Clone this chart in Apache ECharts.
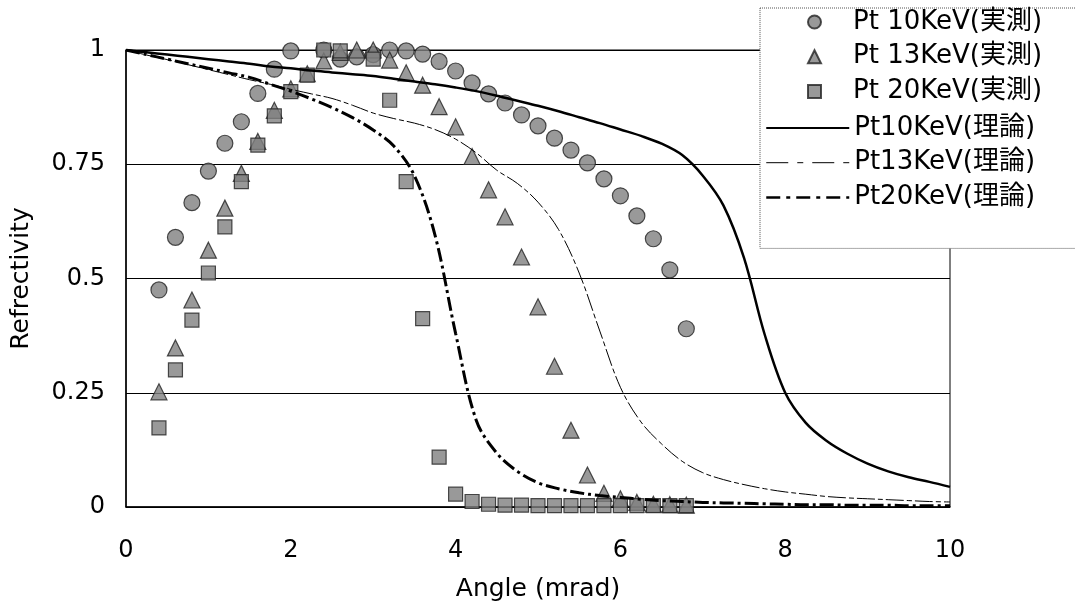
<!DOCTYPE html>
<html>
<head>
<meta charset="utf-8">
<script src="https://cdn.jsdelivr.net/npm/echarts@6/dist/echarts.min.js"></script>
<style>
html,body{margin:0;padding:0;background:#fff;}
#chart{width:1075px;height:608px;}
</style>
</head>
<body>
<div id="chart"></div>
<script>
const FONT = "'DejaVu Sans','Noto Sans CJK JP',sans-serif";

const seriesNames = ['Pt 10KeV(実測)','Pt 13KeV(実測)','Pt 20KeV(実測)','Pt10KeV(理論)','Pt13KeV(理論)','Pt20KeV(理論)'];
const xTickLabels = ['0','2','4','6','8','10'];
const yTickLabels = ['0','0.25','0.5','0.75','1'];

const angleMeas = [0.4,0.6,0.8,1.0,1.2,1.4,1.6,1.8,2.0,2.2,2.4,2.6,2.8,3.0,3.2,3.4,3.6,3.8,4.0,4.2,4.4,4.6,4.8,5.0,5.2,5.4,5.6,5.8,6.0,6.2,6.4,6.6,6.8];
const pt10Meas = [0.475,0.59,0.666,0.735,0.796,0.843,0.905,0.958,0.998,null,1.0,0.98,0.985,0.99,1.0,0.998,0.991,0.975,0.954,0.928,0.904,0.884,0.858,0.834,0.807,0.781,0.753,0.718,0.681,0.637,0.587,0.519,0.39];
const pt13Meas = [0.252,0.348,0.453,0.562,0.654,0.73,0.80,0.868,0.915,0.948,0.976,0.995,1.0,1.0,0.978,0.95,0.923,0.876,0.832,0.767,0.694,0.635,0.547,0.438,0.308,0.168,0.07,0.03,0.018,0.01,0.006,0.005,0.004];
const pt20Meas = [0.173,0.30,0.409,0.512,0.613,0.712,0.792,0.856,0.909,0.945,1.0,0.998,null,0.98,0.89,0.712,0.412,0.109,0.028,0.012,0.006,0.004,0.004,0.003,0.003,0.003,0.003,0.003,0.003,0.003,0.003,0.003,0.003];

const angleTheory = [0,0.25,0.5,0.75,1.0,1.25,1.5,1.75,2.0,2.25,2.5,2.75,3.0,3.25,3.5,3.75,4.0,4.25,4.5,4.75,5.0,5.25,5.5,5.75,6.0,6.25,6.5,6.75,7.0,7.25,7.5,7.75,8.0,8.25,8.5,8.75,9.0,9.25,9.5,9.75,10.0];
const pt10Theory = [1.0,0.995,0.99,0.985,0.98,0.975,0.97,0.964,0.96,0.955,0.951,0.947,0.943,0.937,0.931,0.925,0.918,0.91,0.90,0.889,0.878,0.866,0.853,0.84,0.826,0.812,0.795,0.77,0.725,0.66,0.545,0.378,0.25,0.184,0.145,0.117,0.095,0.078,0.065,0.055,0.044];
const pt13Theory = [1.0,0.989,0.979,0.968,0.957,0.946,0.935,0.925,0.914,0.904,0.894,0.879,0.862,0.85,0.84,0.826,0.805,0.775,0.737,0.708,0.667,0.607,0.512,0.385,0.262,0.186,0.138,0.1,0.075,0.06,0.049,0.04,0.033,0.028,0.023,0.02,0.018,0.016,0.014,0.012,0.011];
const pt20Theory = [1.0,0.99,0.98,0.97,0.96,0.95,0.94,0.925,0.91,0.893,0.874,0.852,0.825,0.79,0.725,0.595,0.38,0.19,0.118,0.078,0.053,0.04,0.031,0.025,0.021,0.017,0.014,0.012,0.01,0.009,0.008,0.007,0.006,0.005,0.005,0.004,0.004,0.004,0.003,0.003,0.003];

function pairs(xs, ys){ return xs.map((x,i)=>[x, ys[i]]); }

const markerStyle = {color:'#808080', borderColor:'#222', borderWidth:1.2};
const lineStyles = [
  {color:'#000', width:2.5, type:'solid'},
  {color:'#000', width:1, type:[18,3,5,3]},
  {color:'#000', width:3, type:[14,4,3,4]}
];
const legendLineStyles = [
  {color:'#000', width:2, type:'solid'},
  {color:'#000', width:1, type:[22,9,6,9]},
  {color:'#000', width:2.5, type:[14,6,4,6]}
];

function scatter(name, symbol, size, ys){
  return {name, type:'scatter', symbol, symbolSize:size, itemStyle:markerStyle,
    data: pairs(angleMeas, ys), z:2};
}
function line(name, ys, style){
  return {name, type:'line', symbol:'none', showSymbol:false, smooth:0.35,
    lineStyle:style, itemStyle:{color:'#000'},
    data: pairs(angleTheory, ys), z:3};
}

const legendText = {fontSize:26, lineHeight:26, color:'#000', fontFamily:FONT};

const chart = echarts.init(document.getElementById('chart'), null, {renderer:'canvas'});
chart.setOption({
  animation:false,
  backgroundColor:'#fff',
  textStyle:{fontFamily:FONT},
  grid:{left:126, right:125, top:50, bottom:101, show:true, borderColor:'#000', borderWidth:1, backgroundColor:'transparent'},
  xAxis:{
    type:'value', min:0, max:10, interval:2,
    name:'Angle (mrad)', nameLocation:'middle', nameGap:70,
    nameTextStyle:{fontSize:25, color:'#000', fontFamily:FONT},
    axisLine:{show:true, lineStyle:{color:'#000', width:1.5}},
    axisTick:{show:false},
    splitLine:{show:false},
    axisLabel:{fontSize:24, color:'#000', margin:32, fontFamily:FONT,
      formatter:(v)=>xTickLabels[Math.round(v/2)]}
  },
  yAxis:{
    type:'value', min:0, max:1, interval:0.25,
    name:'Refrectivity', nameLocation:'middle', nameGap:92, nameRotate:90,
    nameTextStyle:{fontSize:25, color:'#000', fontFamily:FONT},
    axisLine:{show:true, lineStyle:{color:'#000', width:1.5}},
    axisTick:{show:false},
    splitLine:{show:true, lineStyle:{color:'#000', width:1}},
    axisLabel:{fontSize:24, color:'#000', margin:21, fontFamily:FONT,
      formatter:(v)=>yTickLabels[Math.round(v*4)]}
  },
  legend:[
    {
      orient:'vertical', left:760, top:8,
      padding:[1,40,144,47],
      itemWidth:13, itemHeight:13, itemGap:8.7,
      backgroundColor:'#fff', borderColor:'#555', borderWidth:1, borderType:'dotted',
      textStyle:Object.assign({}, legendText, {rich:{sp:{width:27}}}),
      formatter:(n)=>'{sp|}'+n,
      data:seriesNames.slice(0,3).map(n=>({name:n})),
      z:10
    },
    {
      orient:'vertical', left:760, top:113,
      padding:[2,8,2,5],
      itemWidth:83, itemHeight:14, itemGap:8.7,
      textStyle:legendText,
      itemStyle:{opacity:0, color:'rgba(0,0,0,0)', borderWidth:0},
      data:seriesNames.slice(3).map((n,i)=>({name:n, lineStyle:legendLineStyles[i]})),
      z:11
    }
  ],
  series:[
    scatter(seriesNames[0],'circle',16,pt10Meas),
    scatter(seriesNames[1],'triangle',16,pt13Meas),
    scatter(seriesNames[2],'rect',14,pt20Meas),
    line(seriesNames[3],pt10Theory,lineStyles[0]),
    line(seriesNames[4],pt13Theory,lineStyles[1]),
    line(seriesNames[5],pt20Theory,lineStyles[2])
  ]
});
</script>
</body>
</html>
